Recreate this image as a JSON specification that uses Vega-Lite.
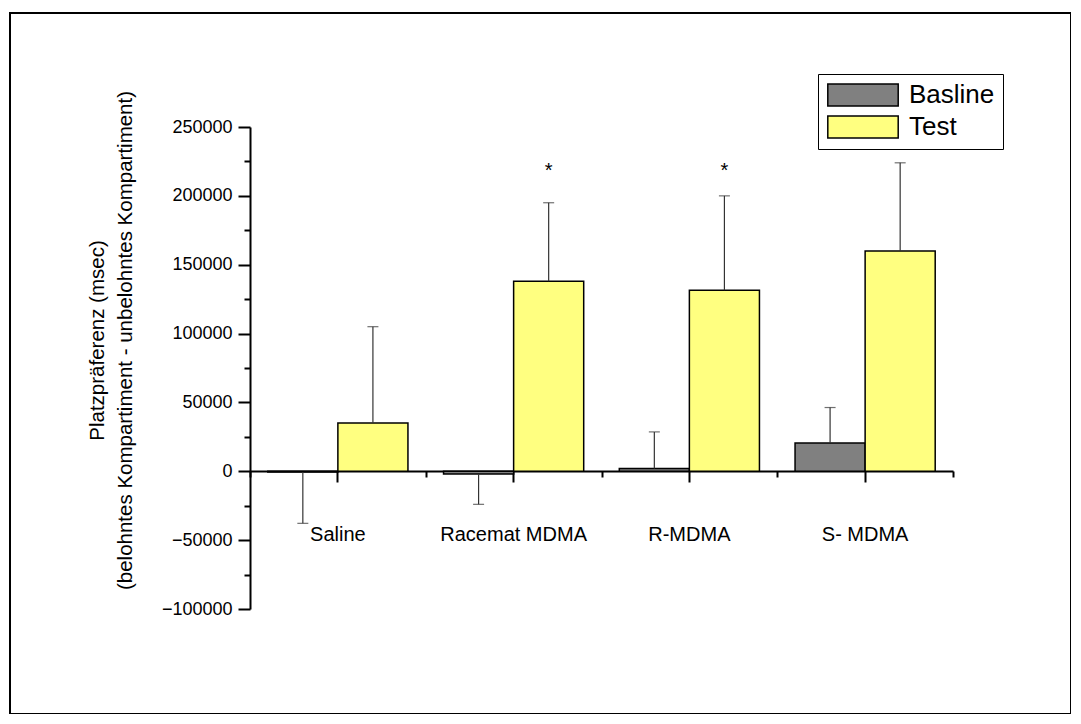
{
  "$schema": "https://vega.github.io/schema/vega-lite/v6.json",
  "width": 1061,
  "height": 701,
  "autosize": "none",
  "padding": {"left": 10, "top": 13, "right": 0, "bottom": 0},
  "background": "white",
  "config": {
    "view": {"stroke": "black", "strokeWidth": 2},
    "font": "Liberation Sans"
  },
  "data": {
    "values": [
      {"group": "Saline", "series": "Basline", "value": -500, "err": -37800},
      {"group": "Saline", "series": "Test", "value": 35000, "err": 105000},
      {"group": "Racemat MDMA", "series": "Basline", "value": -2000, "err": -24000},
      {"group": "Racemat MDMA", "series": "Test", "value": 138000, "err": 195000, "sig": "*"},
      {"group": "R-MDMA", "series": "Basline", "value": 2000, "err": 28600},
      {"group": "R-MDMA", "series": "Test", "value": 131500, "err": 200000, "sig": "*"},
      {"group": "S- MDMA", "series": "Basline", "value": 20600, "err": 46300},
      {"group": "S- MDMA", "series": "Test", "value": 160000, "err": 224000}
    ]
  },
  "encoding": {
    "x": {
      "field": "group",
      "type": "nominal",
      "sort": ["Saline", "Racemat MDMA", "R-MDMA", "S- MDMA"],
      "scale": {"range": [240, 943], "paddingInner": 0, "paddingOuter": 0}
    },
    "xOffset": {
      "field": "series",
      "type": "nominal",
      "scale": {"paddingInner": 0, "paddingOuter": 0.254}
    }
  },
  "layer": [
    {
      "mark": {"type": "bar", "stroke": "black", "strokeWidth": 1.5},
      "encoding": {
        "x": {
          "field": "group",
          "type": "nominal",
          "sort": ["Saline", "Racemat MDMA", "R-MDMA", "S- MDMA"],
          "axis": {
            "orient": "bottom",
            "offset": -243,
            "title": null,
            "labelAngle": 0,
            "labelFontSize": 20,
            "labelColor": "black",
            "labelPadding": 42,
            "tickBand": "center",
            "tickSize": 11,
            "tickWidth": 2,
            "tickColor": "black",
            "domainColor": "black",
            "domainWidth": 2
          }
        },
        "y": {
          "field": "value",
          "type": "quantitative",
          "scale": {"domain": [-100000, 250000], "range": [596, 114], "nice": false, "zero": false},
          "axis": {
            "orient": "left",
            "offset": -240,
            "values": [-100000, -50000, 0, 50000, 100000, 150000, 200000, 250000],
            "format": "d",
            "grid": false,
            "labelFontSize": 18,
            "labelColor": "black",
            "labelPadding": 6,
            "tickSize": 12,
            "tickWidth": 2,
            "tickColor": "black",
            "domainColor": "black",
            "domainWidth": 2,
            "title": ["Platzpräferenz (msec)", "(belohntes Kompartiment - unbelohntes Kompartiment)"],
            "titleFontSize": 20.5,
            "titleFontWeight": "normal",
            "titleColor": "black",
            "titleLineHeight": 28,
            "titlePadding": 26,
            "titleY": 327
          }
        },
        "color": {
          "field": "series",
          "type": "nominal",
          "scale": {"domain": ["Basline", "Test"], "range": ["#808080", "#FFFF80"]},
          "legend": {
            "orient": "none",
            "legendX": 808,
            "legendY": 61,
            "title": null,
            "symbolType": "M-3.2,-1H3.2V1H-3.2Z",
            "symbolSize": 484,
            "symbolOffset": 24,
            "symbolStrokeColor": "black",
            "symbolStrokeWidth": 1.5,
            "labelFontSize": 26,
            "labelColor": "black",
            "labelOffset": 33,
            "rowPadding": 4,
            "padding": 8,
            "strokeColor": "black",
            "fillColor": "white"
          }
        }
      }
    },
    {
      "mark": {"type": "rule", "color": "#333333", "strokeWidth": 1.2},
      "encoding": {
        "x": {
          "field": "group",
          "type": "nominal",
          "sort": ["Saline", "Racemat MDMA", "R-MDMA", "S- MDMA"],
          "axis": {
            "orient": "bottom",
            "offset": -243,
            "title": null,
            "labels": false,
            "domain": false,
            "tickBand": "extent",
            "tickSize": 6,
            "tickWidth": 2,
            "tickColor": "black"
          }
        },
        "y": {
          "field": "value",
          "type": "quantitative",
          "axis": {
            "orient": "left",
            "offset": -240,
            "values": [-75000, -25000, 25000, 75000, 125000, 175000, 225000],
            "labels": false,
            "domain": false,
            "grid": false,
            "title": null,
            "tickSize": 6,
            "tickWidth": 2,
            "tickColor": "black"
          }
        },
        "y2": {"field": "err"}
      }
    },
    {
      "mark": {"type": "tick", "orient": "horizontal", "color": "#333333", "thickness": 1.2, "size": 11},
      "encoding": {
        "x": {
          "field": "group",
          "type": "nominal",
          "sort": ["Saline", "Racemat MDMA", "R-MDMA", "S- MDMA"],
          "axis": null
        },
        "y": {"field": "err", "type": "quantitative", "axis": null}
      }
    },
    {
      "transform": [{"filter": "datum.sig"}],
      "mark": {"type": "text", "fontSize": 20, "font": "Liberation Sans", "color": "black", "baseline": "middle"},
      "encoding": {
        "x": {
          "field": "group",
          "type": "nominal",
          "sort": ["Saline", "Racemat MDMA", "R-MDMA", "S- MDMA"],
          "axis": null
        },
        "y": {"datum": 218000, "type": "quantitative", "axis": null},
        "text": {"field": "sig"}
      }
    }
  ],
  "resolve": {"axis": {"x": "independent", "y": "independent"}}
}
